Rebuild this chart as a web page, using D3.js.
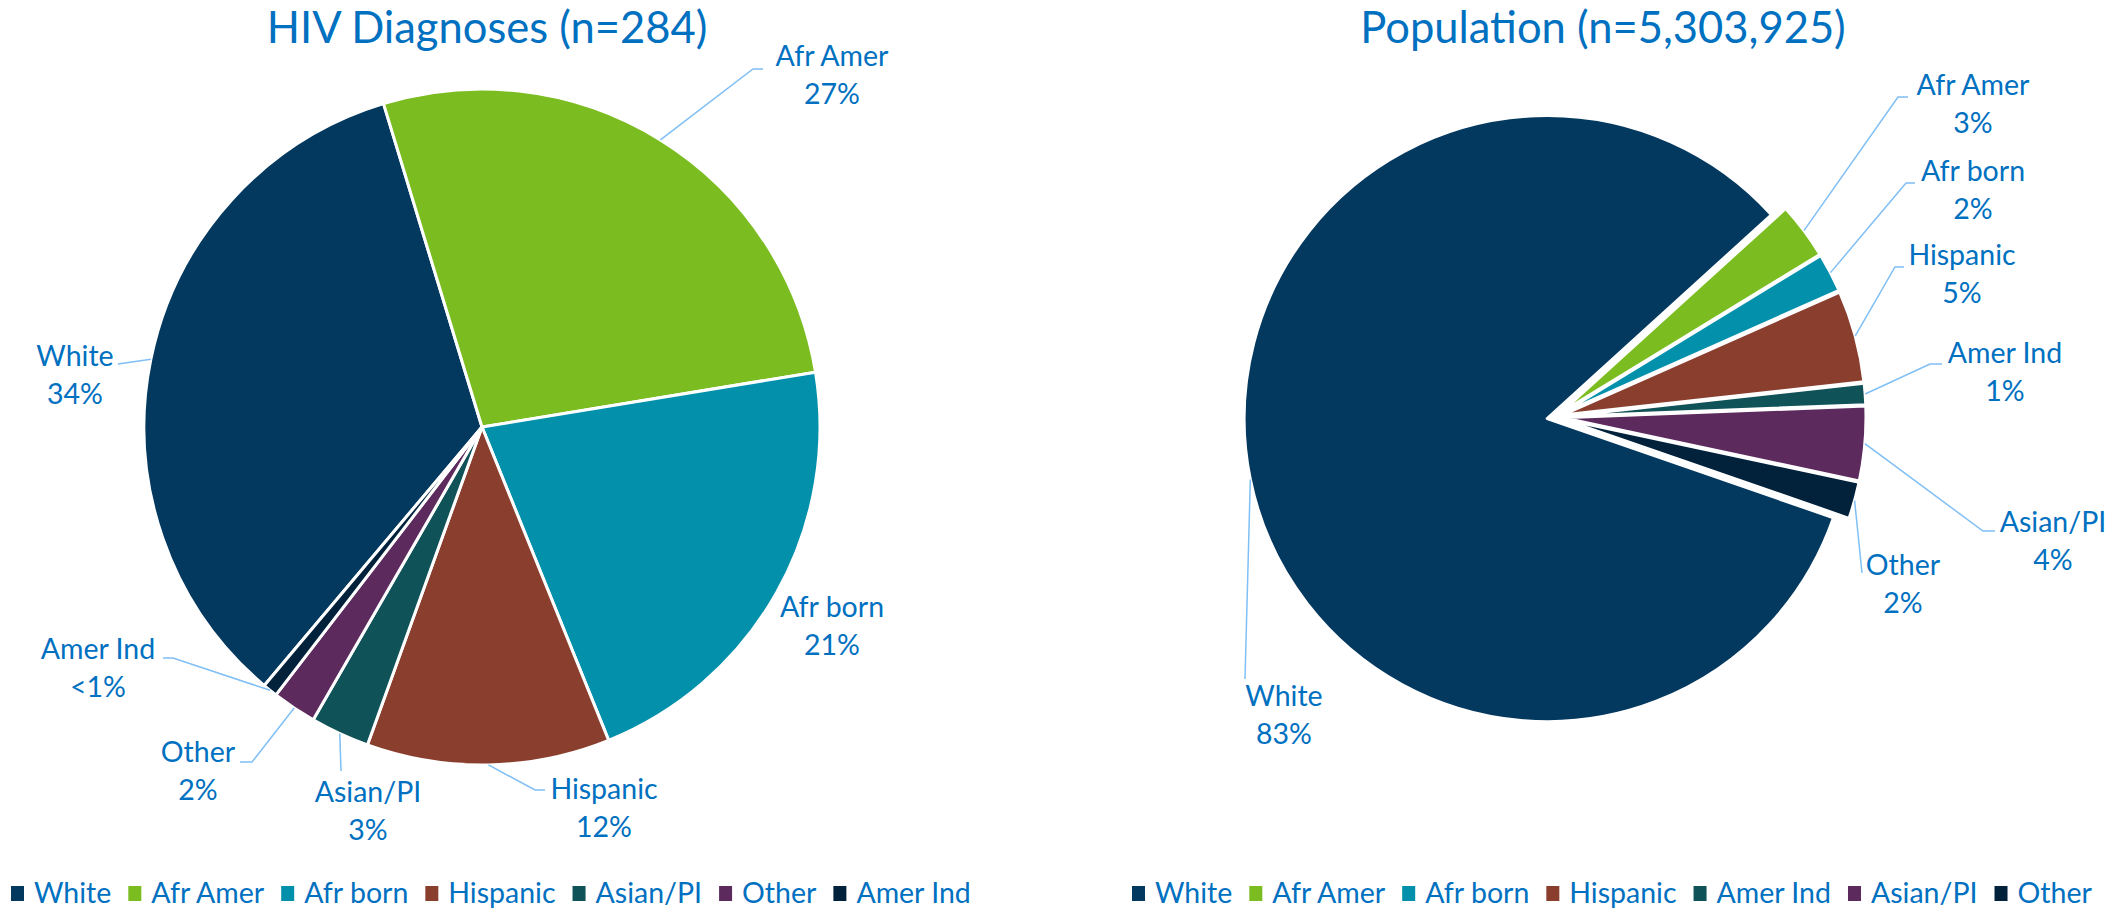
<!DOCTYPE html>
<html lang="en">
  <head>
    <meta charset="UTF-8" />
    <title>HIV Diagnoses vs Population</title>
    <style>
      body {
        margin: 0;
        overflow: hidden;
        background: #fff;
      }
      text {
        font-family: Lato, "Open Sans", sans-serif;
        fill: #0070c0;
      }
      .leader {
        fill: none;
        stroke: #7fbff5;
        stroke-width: 1.5px;
      }
    </style>
    <script src="https://cdn.jsdelivr.net/npm/d3@7/dist/d3.min.js"></script>
  </head>
  <body>
    <script>
      // data
      const leftTitle = "HIV Diagnoses (n=284)";
      const leftCats = ["White", "Afr Amer", "Afr born", "Hispanic", "Asian/PI", "Other", "Amer Ind"];
      const leftValues = [97, 77, 61, 33, 8, 6, 2];
      const leftPct = ["34%", "27%", "21%", "12%", "3%", "2%", "<1%"];

      const rightTitle = "Population (n=5,303,925)";
      const rightCats = ["White", "Afr Amer", "Afr born", "Hispanic", "Amer Ind", "Asian/PI", "Other"];
      const rightValues = [4400000, 160000, 110000, 260000, 60000, 210000, 103925];
      const rightPct = ["83%", "3%", "2%", "5%", "1%", "4%", "2%"];

      // colours go by legend position
      const palette = ["#03385f", "#7bbd21", "#0390ab", "#8a3f2e", "#0f5257", "#5d2a5d", "#02223c"];

      const width = window.innerWidth;
      const height = window.innerHeight;
      const deg = Math.PI / 180;

      const svg = d3.select("body").append("svg")
        .attr("width", width)
        .attr("height", height);

      // label spots (x centre, first baseline) and leader bends, by slice index
      const leftLayout = [
        { x: 75, y: 366, pts: [[118, 364]] },
        { x: 832, y: 66, pts: [[753, 69], [763, 69]] },
        { x: 832, y: 617, pts: null },
        { x: 604, y: 799, pts: [[535, 790], [545, 790]] },
        { x: 368, y: 802, pts: [[341, 771]] },
        { x: 198, y: 762, pts: [[252, 762], [240, 762]] },
        { x: 98, y: 659, pts: [[173, 658], [163, 658]] }
      ];
      const rightLayout = [
        { x: 1284, y: 706, pts: [[1245, 679]] },
        { x: 1973, y: 95, pts: [[1898, 97], [1908, 97]] },
        { x: 1973, y: 181, pts: [[1906, 183], [1915, 183]] },
        { x: 1962, y: 265, pts: [[1895, 267], [1904, 267]] },
        { x: 2005, y: 363, pts: [[1930, 364], [1942, 364]] },
        { x: 2053, y: 532, pts: [[1983, 531], [1995, 531]] },
        { x: 1903, y: 575, pts: [[1862, 573]] }
      ];

      const drawPie = (opts) => {
        const { cx, cy, r, start, explode, values, cats, pct, layout, title, titleX, legendX } = opts;
        const g = svg.append("g").attr("transform", `translate(${cx},${cy})`);

        const pie = d3.pie().sort(null).value(d => d)
          .startAngle(start * deg).endAngle(start * deg + 2 * Math.PI);
        const arcs = pie(values);
        const arc = d3.arc().innerRadius(0).outerRadius(r);
        const shift = d => {
          const m = (d.startAngle + d.endAngle) / 2;
          return [explode * Math.sin(m), -explode * Math.cos(m)];
        };

        g.selectAll("path.slice")
          .data(arcs)
          .join("path")
          .attr("class", "slice")
          .attr("d", arc)
          .attr("transform", d => `translate(${shift(d)})`)
          .attr("fill", (d, i) => palette[i])
          .attr("stroke", "#fff")
          .attr("stroke-width", 3)
          .attr("stroke-linejoin", "round");

        // leader lines
        const line = d3.line();
        arcs.forEach((d, i) => {
          const lay = layout[i];
          if (!lay.pts) return;
          const m = (d.startAngle + d.endAngle) / 2;
          const [sx, sy] = shift(d);
          const p0 = [cx + sx + r * Math.sin(m), cy + sy - r * Math.cos(m)];
          svg.append("path")
            .attr("class", "leader")
            .attr("d", line([p0, ...lay.pts]));
        });

        // data labels
        const lab = svg.append("g").attr("font-size", 28.5).attr("text-anchor", "middle");
        layout.forEach((lay, i) => {
          const t = lab.append("text").attr("x", lay.x).attr("y", lay.y);
          t.append("tspan").attr("x", lay.x).text(cats[i]);
          t.append("tspan").attr("x", lay.x).attr("dy", 38).text(pct[i]);
        });

        svg.append("text")
          .attr("x", titleX)
          .attr("y", 43)
          .attr("text-anchor", "middle")
          .attr("font-size", 43.5)
          .text(title);

        // legend
        const leg = svg.append("g").attr("transform", `translate(${legendX},893)`);
        let x = 0;
        cats.forEach((c, i) => {
          leg.append("rect")
            .attr("x", x).attr("y", -7)
            .attr("width", 13).attr("height", 15)
            .attr("fill", palette[i]);
          const t = leg.append("text")
            .attr("x", x + 23).attr("y", 10)
            .attr("font-size", 28.5)
            .text(c);
          x += 23 + t.node().getComputedTextLength() + 17;
        });
      };

      drawPie({
        cx: 482, cy: 427, r: 338, start: 220.1, explode: 0,
        values: leftValues, cats: leftCats, pct: leftPct, layout: leftLayout,
        title: leftTitle, titleX: 487, legendX: 11
      });

      drawPie({
        cx: 1555, cy: 417, r: 303, start: 109.1, explode: 8,
        values: rightValues, cats: rightCats, pct: rightPct, layout: rightLayout,
        title: rightTitle, titleX: 1603, legendX: 1132
      });
    </script>
  </body>
</html>
